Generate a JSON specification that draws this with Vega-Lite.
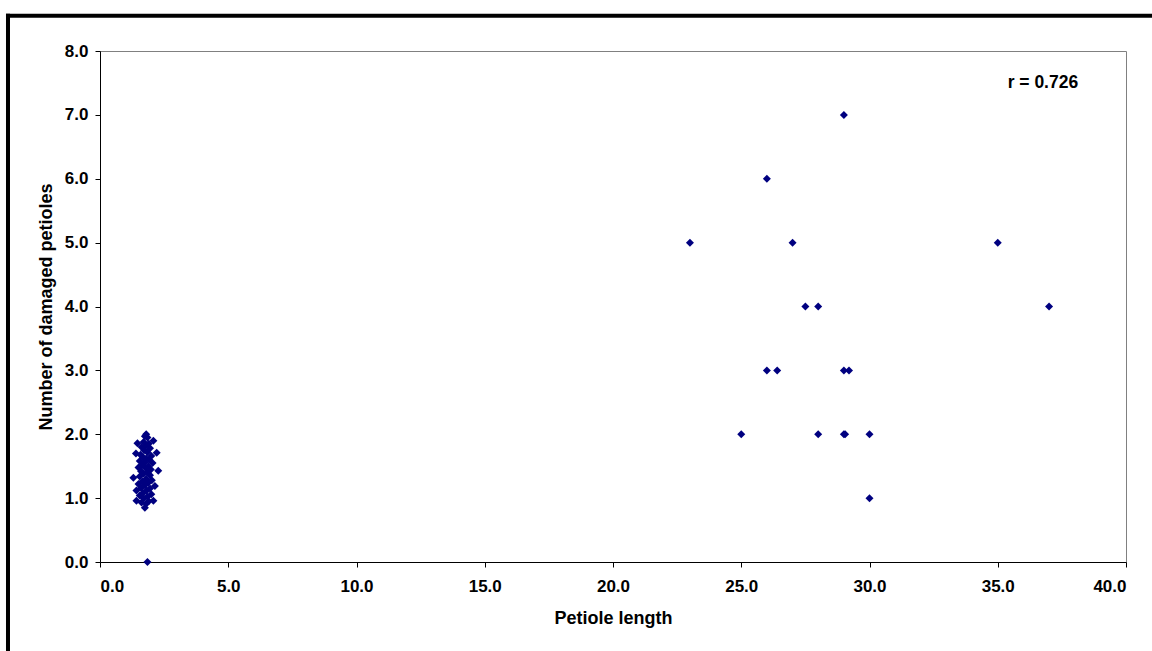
{
  "$schema": "https://vega.github.io/schema/vega-lite/v6.json",
  "width": 1026,
  "height": 511,
  "autosize": {"type": "none"},
  "padding": {"left": 100, "top": 51, "right": 26, "bottom": 89},
  "background": "white",
  "config": {
    "view": {"stroke": "#808080", "strokeWidth": 1},
    "axis": {
      "labelFont": "Liberation Sans",
      "labelFontWeight": "bold",
      "labelFontSize": 17,
      "labelColor": "black",
      "titleFont": "Liberation Sans",
      "titleFontWeight": "bold",
      "titleFontSize": 18,
      "titleColor": "black",
      "domainColor": "black",
      "tickColor": "black",
      "tickSize": 5,
      "grid": false
    }
  },
  "data": {
    "values": [
      {"length": 23, "damaged": 5},
      {"length": 25, "damaged": 2},
      {"length": 26, "damaged": 6},
      {"length": 26, "damaged": 3},
      {"length": 26.4, "damaged": 3},
      {"length": 27, "damaged": 5},
      {"length": 27.5, "damaged": 4},
      {"length": 28, "damaged": 4},
      {"length": 28, "damaged": 2},
      {"length": 29, "damaged": 7},
      {"length": 29, "damaged": 3},
      {"length": 29.2, "damaged": 3},
      {"length": 29, "damaged": 2},
      {"length": 29.05, "damaged": 2},
      {"length": 30, "damaged": 2},
      {"length": 30, "damaged": 1},
      {"length": 35, "damaged": 5},
      {"length": 37, "damaged": 4},
      {"length": 1.80, "damaged": 2.00},
      {"length": 1.75, "damaged": 1.97},
      {"length": 1.85, "damaged": 1.95},
      {"length": 1.46, "damaged": 1.86},
      {"length": 2.08, "damaged": 1.90},
      {"length": 1.70, "damaged": 1.88},
      {"length": 1.90, "damaged": 1.85},
      {"length": 1.78, "damaged": 1.82},
      {"length": 1.62, "damaged": 1.80},
      {"length": 1.95, "damaged": 1.78},
      {"length": 1.40, "damaged": 1.70},
      {"length": 2.21, "damaged": 1.71},
      {"length": 1.72, "damaged": 1.75},
      {"length": 1.85, "damaged": 1.72},
      {"length": 1.58, "damaged": 1.68},
      {"length": 2.00, "damaged": 1.66},
      {"length": 1.68, "damaged": 1.64},
      {"length": 1.80, "damaged": 1.62},
      {"length": 1.92, "damaged": 1.60},
      {"length": 1.55, "damaged": 1.58},
      {"length": 1.75, "damaged": 1.56},
      {"length": 2.05, "damaged": 1.55},
      {"length": 1.65, "damaged": 1.52},
      {"length": 1.88, "damaged": 1.50},
      {"length": 1.50, "damaged": 1.48},
      {"length": 1.78, "damaged": 1.47},
      {"length": 1.98, "damaged": 1.45},
      {"length": 2.27, "damaged": 1.43},
      {"length": 1.60, "damaged": 1.42},
      {"length": 1.85, "damaged": 1.40},
      {"length": 1.70, "damaged": 1.38},
      {"length": 1.95, "damaged": 1.36},
      {"length": 1.55, "damaged": 1.34},
      {"length": 1.30, "damaged": 1.32},
      {"length": 1.80, "damaged": 1.30},
      {"length": 2.02, "damaged": 1.28},
      {"length": 1.65, "damaged": 1.26},
      {"length": 1.88, "damaged": 1.24},
      {"length": 1.50, "damaged": 1.22},
      {"length": 1.75, "damaged": 1.20},
      {"length": 2.14, "damaged": 1.19},
      {"length": 1.60, "damaged": 1.16},
      {"length": 1.95, "damaged": 1.15},
      {"length": 1.42, "damaged": 1.12},
      {"length": 1.82, "damaged": 1.12},
      {"length": 1.68, "damaged": 1.08},
      {"length": 2.00, "damaged": 1.06},
      {"length": 1.55, "damaged": 1.04},
      {"length": 1.85, "damaged": 1.02},
      {"length": 1.70, "damaged": 1.00},
      {"length": 1.42, "damaged": 0.96},
      {"length": 2.08, "damaged": 0.96},
      {"length": 1.90, "damaged": 0.95},
      {"length": 1.62, "damaged": 0.93},
      {"length": 1.80, "damaged": 0.91},
      {"length": 1.75, "damaged": 0.85},
      {"length": 1.85, "damaged": 0.0}
    ]
  },
  "layer": [
    {
      "mark": {"type": "point", "shape": "diamond", "filled": true, "color": "#000080", "opacity": 1, "size": 64},
      "encoding": {
        "x": {
          "field": "length", "type": "quantitative",
          "scale": {"domain": [0, 40], "nice": false, "zero": false},
          "axis": {"title": "Petiole length", "values": [0, 5, 10, 15, 20, 25, 30, 35, 40], "format": ".1f", "labelPadding": 11, "titlePadding": 15}
        },
        "y": {
          "field": "damaged", "type": "quantitative",
          "scale": {"domain": [0, 8], "nice": false, "zero": false},
          "axis": {"title": "Number of damaged petioles", "values": [0, 1, 2, 3, 4, 5, 6, 7, 8], "format": ".1f", "labelPadding": 7, "titlePadding": 9}
        }
      }
    },
    {
      "data": {"values": [{"label": "r = 0.726"}]},
      "mark": {"type": "text", "font": "Liberation Sans", "fontWeight": "bold", "fontSize": 17.5, "color": "black", "align": "center", "baseline": "middle"},
      "encoding": {
        "x": {"datum": 36.76, "type": "quantitative"},
        "y": {"datum": 7.496, "type": "quantitative"},
        "text": {"field": "label"}
      }
    },
    {
      "data": {"values": [{"edge": "left"}]},
      "mark": {"type": "rule", "color": "black", "strokeWidth": 4},
      "encoding": {
        "x": {"datum": -3.587, "type": "quantitative"},
        "y": {"datum": -1.6, "type": "quantitative"},
        "y2": {"datum": 8.584}
      }
    },
    {
      "data": {"values": [{"edge": "top"}]},
      "mark": {"type": "rule", "color": "black", "strokeWidth": 4},
      "encoding": {
        "x": {"datum": -3.665, "type": "quantitative"},
        "x2": {"datum": 42},
        "y": {"datum": 8.553, "type": "quantitative"}
      }
    }
  ]
}
